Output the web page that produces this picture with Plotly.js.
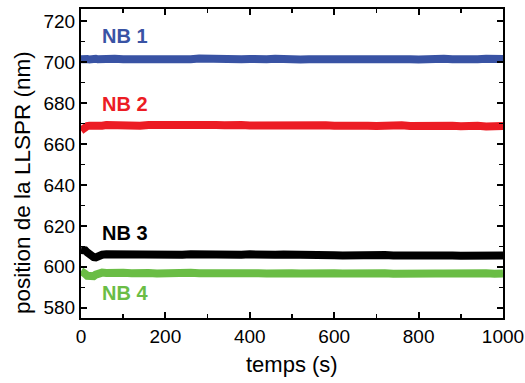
<!DOCTYPE html>
<html>
<head>
<meta charset="utf-8">
<script src="https://cdn.plot.ly/plotly-3.0.1.min.js"></script>
<style>
  html, body { margin: 0; padding: 0; background: #fff; }
  #chart { width: 525px; height: 383px; }
</style>
</head>
<body>
<div id="chart"></div>
<script>
// Time axis (s)
const times = [0, 5, 10, 15, 20, 25, 30, 35, 40,
  50, 60, 80, 100, 120, 140, 160, 180, 200,
  220, 240, 260, 280, 300, 320, 340, 360, 380, 400,
  420, 440, 460, 480, 500, 520, 540, 560, 580, 600,
  620, 640, 660, 680, 700, 720, 740, 760, 780, 800,
  820, 840, 860, 880, 900, 920, 940, 960, 980, 1000];

// LLSPR position (nm) for each nanobiosensor
const nb1 = [701.4, 701.7, 701.5, 701.6, 701.3, 701.6, 701.5, 701.7, 701.4,
  701.6, 701.3, 701.7, 701.5, 701.4, 701.8, 701.5, 701.3, 701.6,
  701.7, 701.4, 701.5, 701.8, 701.6, 701.3, 701.5, 701.7, 701.4, 701.6,
  701.2, 701.5, 701.7, 701.4, 701.6, 701.3, 701.5, 701.8, 701.5, 701.4,
  701.6, 701.3, 701.7, 701.5, 701.4, 701.6, 701.8, 701.9, 701.5, 701.3,
  701.6, 701.4, 701.7, 701.5, 701.3, 701.6, 701.4, 701.7, 701.5, 701.6];

const nb2 = [666.6, 667.6, 668.4, 668.8, 669.0, 668.9, 669.1, 668.9, 669.2,
  669.0, 669.3, 669.1, 669.4, 669.2, 669.0, 669.3, 669.4, 669.1,
  669.3, 669.0, 669.2, 669.4, 669.1, 669.3, 669.2, 669.5, 669.3, 669.1,
  669.2, 669.0, 669.3, 669.1, 669.2, 668.9, 669.1, 669.0, 669.2, 668.9,
  669.1, 668.9, 669.2, 669.0, 668.8, 669.1, 668.9, 669.2, 668.8, 669.0,
  668.9, 669.1, 668.8, 669.0, 668.7, 669.1, 668.9, 668.6, 669.0, 668.8];

const nb3 = [608.2, 608.4, 608.0, 607.0, 605.9, 605.1, 604.7, 604.6, 605.3,
  605.9, 606.1, 606.0, 606.2, 605.9, 606.1, 605.8, 605.5, 606.0,
  606.1, 605.9, 606.2, 606.0, 605.8, 606.1, 606.2, 606.0, 605.9, 606.1,
  605.8, 605.6, 605.9, 606.0, 605.8, 605.7, 605.9, 605.6, 605.8, 605.7,
  605.6, 605.8, 605.3, 605.7, 605.5, 605.8, 605.6, 605.7, 605.5, 605.6,
  605.4, 605.7, 605.5, 605.6, 605.4, 605.5, 605.7, 605.4, 605.6, 605.5];

const nb4 = [597.9, 597.6, 596.6, 595.6, 595.2, 595.1, 595.4, 596.2, 596.9,
  597.2, 597.0, 597.3, 597.1, 596.9, 597.2, 597.0, 596.8, 597.1,
  597.0, 596.8, 597.1, 596.9, 597.0, 596.8, 597.1, 596.9, 596.8, 597.0,
  596.9, 596.7, 597.0, 596.8, 596.9, 596.7, 596.9, 596.6, 596.8, 596.9,
  596.7, 596.9, 596.6, 596.8, 596.7, 596.9, 596.6, 596.8, 596.7, 596.9,
  596.6, 596.8, 596.7, 596.9, 596.6, 596.8, 596.7, 596.9, 596.6, 596.8];

const seriesNames = ['NB 1', 'NB 2', 'NB 3', 'NB 4'];
const seriesValues = [nb1, nb2, nb3, nb4];
const seriesColors = ['#3953a4', '#ec1c24', '#000000', '#6abd45'];

const xTitle = 'temps (s)';
const yTitle = 'position de la LLSPR (nm)';

const FONT = 'Liberation Sans, Arial, sans-serif';

const traces = seriesValues.map((vals, i) => ({
  type: 'scatter',
  mode: 'lines',
  x: times,
  y: vals,
  name: seriesNames[i],
  line: { color: seriesColors[i], width: 8, shape: 'linear' },
  hoverinfo: 'skip'
}));

// Series name labels, placed just above / below each trace
const labelY = [712.6, 679.6, 616.5, 587.0];
const annotations = seriesNames.map((name, i) => ({
  x: 45, y: labelY[i], xref: 'x', yref: 'y',
  xanchor: 'left', yanchor: 'middle',
  text: '<b>' + name + '</b>',
  showarrow: false,
  font: { family: FONT, size: 20, color: seriesColors[i] }
}));

// Axis titles
annotations.push({
  x: 0.5, y: -0.152, xref: 'paper', yref: 'paper',
  xanchor: 'center', yanchor: 'middle',
  text: xTitle, showarrow: false,
  font: { family: FONT, size: 22, color: '#000' }
});
annotations.push({
  x: -0.14, y: 0.44, xref: 'paper', yref: 'paper',
  xanchor: 'center', yanchor: 'middle', textangle: -90,
  text: yTitle, showarrow: false,
  font: { family: FONT, size: 22.5, color: '#000' }
});

const axisCommon = {
  showline: true, linecolor: '#000', linewidth: 2,
  mirror: 'ticks', ticks: 'inside', ticklen: 6, tickwidth: 2, tickcolor: '#000',
  showgrid: false, zeroline: false,
  tickfont: { family: FONT, size: 19, color: '#000' }
};

const layout = {
  width: 525, height: 383,
  margin: { l: 81, r: 22, t: 9, b: 65 },
  paper_bgcolor: '#fff', plot_bgcolor: '#fff',
  showlegend: false,
  xaxis: Object.assign({}, axisCommon, {
    range: [0, 1000], tickmode: 'linear', tick0: 0, dtick: 200,
    minor: { dtick: 100, ticks: 'inside', ticklen: 4, tickwidth: 1.5, tickcolor: '#000' }
  }),
  yaxis: Object.assign({}, axisCommon, {
    range: [575, 726], tickmode: 'linear', tick0: 580, dtick: 20,
    minor: { dtick: 10, ticks: 'inside', ticklen: 4, tickwidth: 1.5, tickcolor: '#000' }
  }),
  annotations: annotations
};

Plotly.newPlot('chart', traces, layout, { displayModeBar: false, staticPlot: true });
</script>
</body>
</html>
